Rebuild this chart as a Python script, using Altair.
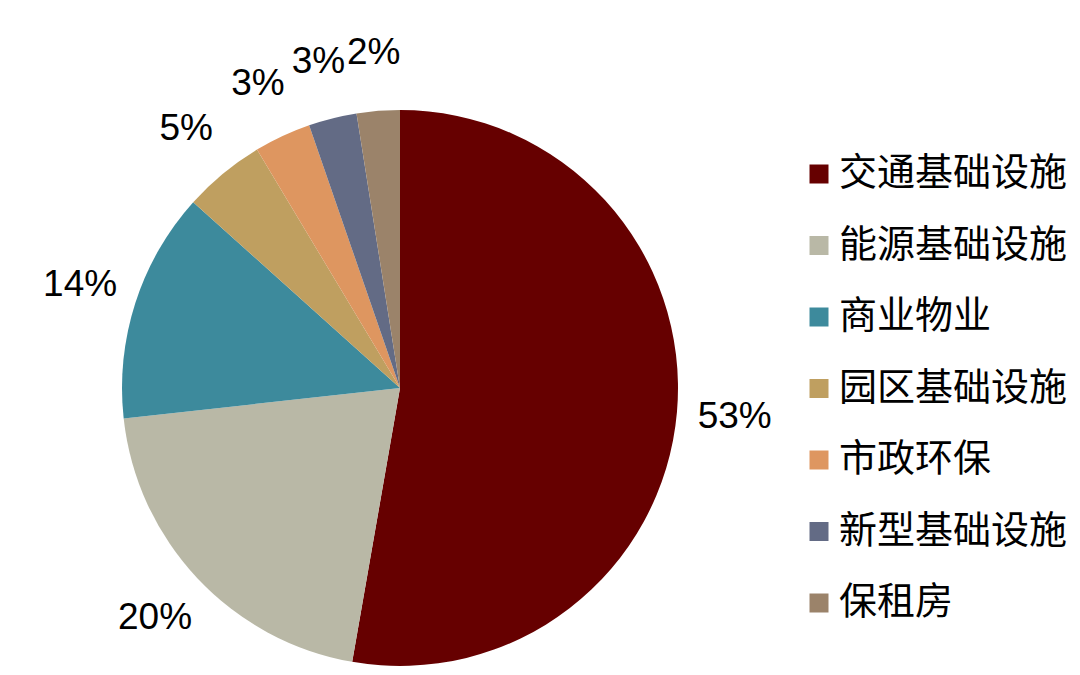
import altair as alt
import pandas as pd

categories = ["交通基础设施", "能源基础设施", "商业物业", "园区基础设施", "市政环保", "新型基础设施", "保租房"]
shares = [52.75, 20.5, 13.4, 4.75, 3.3, 2.8, 2.5]
labels = ["53%", "20%", "14%", "5%", "3%", "3%", "2%"]
colors = ["#660000", "#B9B8A6", "#3D8A9C", "#BF9F60", "#DE9660", "#636B85", "#9B836A"]

df = pd.DataFrame({
    "cat": categories,
    "share": shares,
    "label": labels,
    "idx": list(range(len(categories))),
})

cx, cy = 392, 380

base = alt.Chart(df).encode(
    theta=alt.Theta("share:Q", stack=True),
    order=alt.Order("idx:O"),
)

pie = base.mark_arc(outerRadius=278).encode(
    x=alt.value(cx),
    y=alt.value(cy),
    color=alt.Color(
        "cat:N",
        scale=alt.Scale(domain=categories, range=colors),
        sort=categories,
        legend=alt.Legend(
            title=None,
            orient="none",
            legendX=792,
            legendY=147,
            symbolType="square",
            symbolSize=361,
            symbolStrokeWidth=0,
            labelFont="Noto Sans CJK SC",
            labelFontSize=38,
            labelColor="#000000",
            labelOffset=1,
            rowPadding=33.5,
            padding=0,
            labelLimit=400,
        ),
    ),
)

text = base.mark_text(
    radius=336, font="Liberation Sans", fontSize=37, color="#000000"
).encode(
    x=alt.value(cx),
    y=alt.value(cy),
    text="label:N",
)

chart = (
    alt.layer(pie, text)
    .properties(width=1064, height=659, padding=0, autosize=alt.AutoSizeParams(type="none"))
    .configure_view(stroke=None)
)

chart.save("out.html", embed_options={"renderer": "svg", "actions": False})
